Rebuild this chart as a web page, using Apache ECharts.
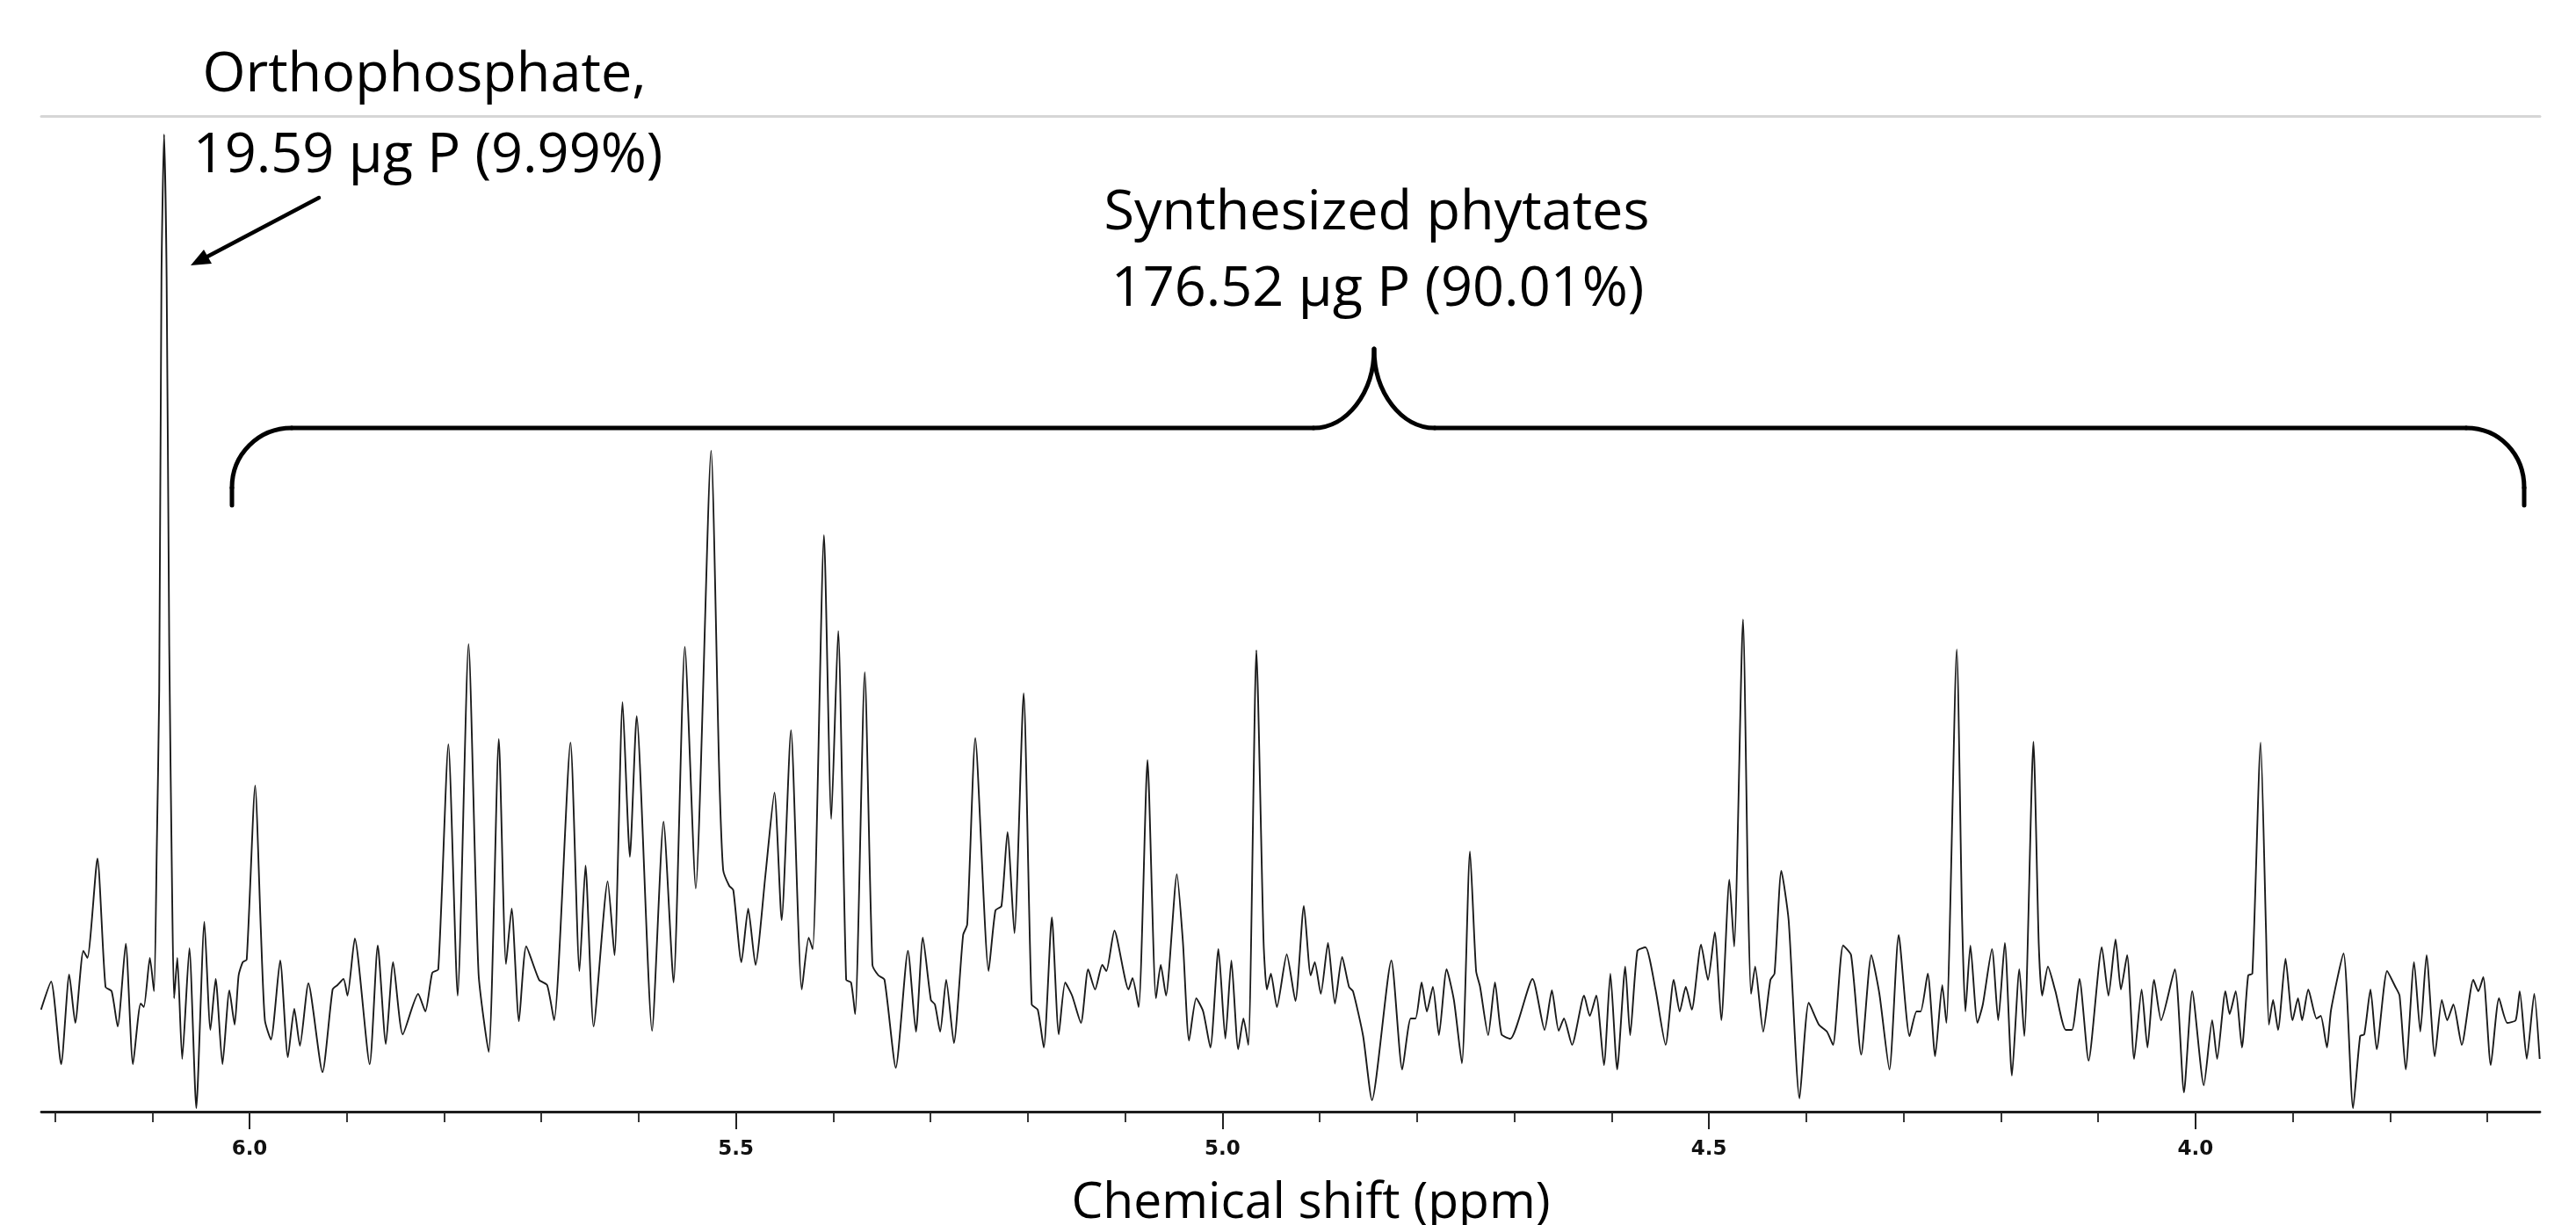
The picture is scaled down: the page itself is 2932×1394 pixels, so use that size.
<!DOCTYPE html>
<html>
<head>
<meta charset="utf-8">
<title>31P NMR spectrum - synthesized phytates</title>
<script src="https://cdn.jsdelivr.net/npm/echarts@6/dist/echarts.min.js"></script>
<style>
  html, body { margin: 0; padding: 0; background: #fff; }
  #spectrum { width: 2932px; height: 1394px; }
</style>
</head>
<body>
<div id="spectrum"></div>
<script>
// spectrum trace: [chemical shift (ppm), intensity (a.u.)]
const spanA = [
  [6.2143, 11.6], [6.2039, 14.8], [6.1936, 5.4], [6.1853, 15.6], [6.1791, 10.1], [6.1708, 18.3],
  [6.1666, 17.5], [6.1563, 28.8], [6.1480, 14.2], [6.1417, 13.7], [6.1355, 9.7], [6.1272, 19.1],
  [6.1198, 5.4], [6.1119, 12.3], [6.1086, 11.9], [6.1024, 17.5], [6.0982, 13.7], [6.0953, 30.0],
  [6.0928, 47.9], [6.0905, 95.0], [6.0878, 111.2], [6.0852, 95.0], [6.0825, 53.0], [6.0796, 25.4],
  [6.0775, 12.9], [6.0742, 17.5], [6.0692, 6.0], [6.0618, 18.6], [6.0547, 0.4], [6.0464, 21.6],
  [6.0402, 9.3], [6.0348, 15.1], [6.0278, 5.4], [6.0207, 13.8], [6.0153, 9.9], [6.0112, 15.5],
  [6.0070, 17.0], [6.0029, 17.3], [5.9942, 37.1], [5.9884, 20.8], [5.9842, 10.4], [5.9780, 8.2],
  [5.9685, 17.2], [5.9606, 6.2], [5.9540, 11.7], [5.9482, 7.5], [5.9395, 14.6], [5.9250, 4.5],
  [5.9146, 13.9], [5.9096, 14.4], [5.9034, 15.1], [5.8993, 13.2], [5.8918, 19.7], [5.8765, 5.4],
  [5.8682, 18.9], [5.8599, 7.7], [5.8524, 17.0], [5.8425, 8.8], [5.8267, 13.4], [5.8193, 11.4],
  [5.8122, 15.8], [5.8060, 16.2], [5.7956, 41.8], [5.7861, 13.2], [5.7749, 53.2], [5.7646, 15.7],
  [5.7542, 6.8], [5.7438, 42.4], [5.7364, 16.8], [5.7306, 23.1], [5.7231, 10.3], [5.7156, 18.8],
  [5.7024, 15.0], [5.6941, 14.4], [5.6870, 10.4], [5.6701, 42.0], [5.6609, 16.0], [5.6547, 28.0],
  [5.6464, 9.7], [5.6319, 26.2], [5.6249, 17.8], [5.6166, 46.6], [5.6091, 29.0], [5.6021, 45.0],
  [5.5863, 9.2]
];
const spanB = [
  [5.5745, 33.0], [5.5642, 14.7], [5.5526, 52.9], [5.5414, 25.4], [5.5256, 75.2], [5.5173, 38.7],
  [5.5132, 27.5], [5.5070, 25.7], [5.5028, 25.2], [5.4945, 17.0], [5.4875, 23.1], [5.4800, 16.7],
  [5.4697, 27.0], [5.4605, 36.3], [5.4531, 21.8], [5.4435, 43.4], [5.4324, 13.9], [5.4253, 19.8],
  [5.4212, 18.5], [5.4096, 65.6], [5.4021, 33.3], [5.3950, 54.7], [5.3868, 15.0], [5.3818, 14.7],
  [5.3776, 11.1], [5.3677, 50.0], [5.3598, 16.7], [5.3536, 15.5], [5.3474, 15.0], [5.3358, 5.0],
  [5.3233, 18.3], [5.3151, 9.1], [5.3080, 19.8], [5.2997, 12.7], [5.2956, 12.2], [5.2902, 9.1],
  [5.2840, 15.0], [5.2761, 7.8], [5.2666, 20.1], [5.2624, 21.3], [5.2541, 42.5], [5.2404, 16.0],
  [5.2334, 22.9], [5.2272, 23.4], [5.2210, 31.8], [5.2139, 20.3], [5.2044, 47.6], [5.1961, 12.2],
  [5.1899, 11.6], [5.1837, 7.3], [5.1754, 22.1], [5.1683, 8.8], [5.1617, 14.7], [5.1546, 13.2],
  [5.1455, 10.1], [5.1381, 16.2], [5.1310, 13.9], [5.1236, 16.7], [5.1194, 16.0], [5.1111, 20.6],
  [5.0966, 13.9], [5.0925, 15.2], [5.0862, 11.9], [5.0771, 40.0], [5.0684, 12.9], [5.0635, 16.7],
  [5.0581, 13.2], [5.0469, 27.0], [5.0407, 19.3], [5.0344, 8.1], [5.0270, 12.9], [5.0199, 11.4],
  [5.0125, 7.3], [5.0042, 18.5], [4.9971, 8.3], [4.9909, 17.2], [4.9839, 7.1], [4.9785, 10.6],
  [4.9735, 7.6], [4.9652, 52.5], [4.9578, 19.3], [4.9544, 13.9], [4.9503, 15.7], [4.9441, 11.9]
];
const spanC = [
  [4.9340, 17.9], [4.9251, 12.6], [4.9164, 23.4], [4.9094, 15.5], [4.9052, 17.0], [4.8990, 13.4],
  [4.8916, 19.2], [4.8845, 12.3], [4.8771, 17.6], [4.8700, 14.2], [4.8659, 13.7], [4.8555, 8.6],
  [4.8464, 1.3], [4.8265, 17.2], [4.8153, 4.8], [4.8066, 10.6], [4.8016, 10.6], [4.7954, 14.7],
  [4.7900, 11.4], [4.7838, 14.2], [4.7776, 8.7], [4.7697, 16.2], [4.7622, 12.7], [4.7540, 5.5],
  [4.7457, 29.6], [4.7394, 16.0], [4.7353, 14.2], [4.7270, 8.7], [4.7200, 14.7], [4.7133, 8.8],
  [4.7042, 8.3], [4.6814, 15.1], [4.6690, 9.3], [4.6615, 13.8], [4.6545, 9.2], [4.6491, 10.6],
  [4.6408, 7.6], [4.6284, 13.2], [4.6226, 10.9], [4.6159, 13.2], [4.6080, 5.3], [4.6014, 15.7],
  [4.5944, 4.8], [4.5861, 16.5], [4.5811, 8.7], [4.5736, 18.3], [4.5653, 18.7], [4.5550, 13.9],
  [4.5446, 7.6], [4.5363, 15.0], [4.5301, 11.4], [4.5239, 14.2], [4.5177, 11.6], [4.5082, 19.0],
  [4.5011, 15.0], [4.4941, 20.4], [4.4874, 10.4], [4.4791, 26.4], [4.4742, 18.8], [4.4651, 56.0],
  [4.4597, 23.4], [4.4568, 13.4], [4.4526, 16.5], [4.4443, 9.1], [4.4369, 15.0], [4.4327, 15.7],
  [4.4257, 27.4], [4.4182, 21.8], [4.4070, 1.5], [4.3975, 12.4], [4.3871, 9.9], [4.3788, 9.1],
  [4.3726, 7.6], [4.3622, 18.9], [4.3540, 17.8], [4.3436, 6.5], [4.3332, 17.8], [4.3249, 13.4],
  [4.3146, 4.8], [4.3051, 20.1], [4.2939, 8.6]
];
const spanD = [
  [4.2867, 11.4], [4.2825, 11.4], [4.2752, 15.7], [4.2676, 6.3], [4.2603, 14.4], [4.2561, 10.1],
  [4.2454, 52.6], [4.2399, 21.8], [4.2365, 11.4], [4.2314, 18.9], [4.2241, 10.1], [4.2186, 12.2],
  [4.2092, 18.5], [4.2028, 10.4], [4.1960, 19.2], [4.1887, 4.1], [4.1811, 16.2], [4.1760, 8.6],
  [4.1666, 42.1], [4.1611, 19.0], [4.1576, 13.2], [4.1517, 16.5], [4.1440, 13.7], [4.1334, 9.3],
  [4.1270, 9.3], [4.1193, 15.1], [4.1099, 5.8], [4.0963, 18.7], [4.0895, 13.2], [4.0822, 19.6],
  [4.0767, 13.9], [4.0703, 17.8], [4.0631, 6.0], [4.0554, 13.9], [4.0494, 7.3], [4.0426, 15.0],
  [4.0354, 10.4], [4.0213, 16.2], [4.0119, 2.2], [4.0034, 13.7], [3.9915, 3.0], [3.9829, 10.4],
  [3.9778, 6.0], [3.9693, 13.7], [3.9650, 11.1], [3.9587, 13.7], [3.9523, 7.3], [3.9459, 15.5],
  [3.9416, 15.7], [3.9331, 42.0], [3.9276, 20.8], [3.9246, 9.9], [3.9203, 12.7], [3.9152, 9.3],
  [3.9075, 17.4], [3.9003, 10.4], [3.8947, 12.9], [3.8905, 10.4], [3.8841, 13.9], [3.8756, 10.6],
  [3.8713, 10.9], [3.8649, 7.3], [3.8607, 11.6], [3.8479, 18.0], [3.8381, 0.4], [3.8308, 8.6],
  [3.8266, 8.8], [3.8202, 13.9], [3.8138, 7.1], [3.8031, 16.0], [3.7946, 14.2], [3.7903, 13.2],
  [3.7840, 4.8], [3.7754, 17.0], [3.7690, 9.1], [3.7626, 17.8], [3.7541, 6.3], [3.7469, 12.7],
  [3.7413, 10.4], [3.7350, 12.2], [3.7264, 7.6], [3.7145, 15.0], [3.7094, 13.7], [3.7043, 15.3],
  [3.6966, 5.3], [3.6881, 12.9], [3.6796, 10.1], [3.6710, 10.4], [3.6668, 13.7], [3.6596, 6.0],
  [3.6519, 13.4], [3.6463, 6.0]
];

const minorTicks = [6.2, 6.1, 6.0, 5.9, 5.8, 5.7, 5.6, 5.5, 5.4, 5.3, 5.2, 5.1, 5.0,
                    4.9, 4.8, 4.7, 4.6, 4.5, 4.4, 4.3, 4.2, 4.1, 4.0, 3.9, 3.8, 3.7];
const majorTicks = [6.0, 5.5, 5.0, 4.5, 4.0];

const orthoText = ['Orthophosphate,', '19.59 µg P (9.99%)'];
const phytateText = ['Synthesized phytates', '176.52 µg P (90.01%)'];
const axisTitle = 'Chemical shift (ppm)';

const trace = spanA.concat(spanB, spanC, spanD);

const textFont = '"Open Sans", "Noto Sans", sans-serif';
const black = '#000';

function label(text, x, y) {
  return {
    type: 'text', x: x, y: y,
    style: { text: text, font: '63px ' + textFont, fill: black, textAlign: 'center', textVerticalAlign: 'middle' }
  };
}
function stroke(w) {
  return { stroke: black, lineWidth: w, fill: null, lineCap: 'round' };
}

const chart = echarts.init(document.getElementById('spectrum'));

const xBase = { type: 'value', min: 3.646, max: 6.214, inverse: true, splitLine: { show: false } };

chart.setOption({
  animation: false,
  backgroundColor: '#fff',
  grid: { left: 47, right: 41, top: 132, bottom: 129, outerBoundsMode: 'none' },
  xAxis: [
    Object.assign({}, xBase, {
      position: 'bottom',
      axisLine: { lineStyle: { color: '#1e1e1e', width: 2.8 } },
      axisTick: { customValues: minorTicks, length: 12, lineStyle: { color: '#222', width: 1.8 } },
      axisLabel: { show: false }
    }),
    Object.assign({}, xBase, {
      position: 'bottom',
      axisLine: { show: false },
      axisTick: { customValues: majorTicks, length: 20, lineStyle: { color: '#222', width: 2 } },
      axisLabel: {
        customValues: majorTicks,
        formatter: function (v) { return v.toFixed(1); },
        margin: 32,
        fontFamily: 'DejaVu Sans', fontWeight: 'bold', fontSize: 23, color: '#111'
      },
      name: axisTitle,
      nameLocation: 'middle',
      nameGap: 76,
      nameTextStyle: { fontFamily: textFont, fontSize: 57, color: black, padding: [0, 0, 0, 46] }
    }),
    Object.assign({}, xBase, {
      position: 'top',
      axisLine: { lineStyle: { color: '#d6d6d6', width: 3 } },
      axisTick: { show: false },
      axisLabel: { show: false }
    })
  ],
  yAxis: { type: 'value', min: 0, max: 113.3, show: false },
  series: [{
    type: 'line',
    xAxisIndex: 0,
    data: trace,
    symbol: 'none',
    smooth: 0.2,
    lineStyle: { color: '#1a1a1a', width: 1.9 }
  }],
  graphic: [
    label(orthoText[0], 483, 86),
    label(orthoText[1], 487, 178),
    label(phytateText[0], 1567, 243),
    label(phytateText[1], 1568, 330),
    // arrow towards the orthophosphate peak
    { type: 'line', shape: { x1: 363, y1: 225, x2: 236, y2: 292 }, style: stroke(4.5) },
    { type: 'polygon', shape: { points: [[217, 302], [241, 300], [232, 284]] }, style: { fill: black } },
    // brace over the phytate region
    { type: 'line', shape: { x1: 264, y1: 575, x2: 264, y2: 555 }, style: stroke(5) },
    { type: 'bezierCurve', shape: { x1: 264, y1: 555, cpx1: 264, cpy1: 517, cpx2: 294, cpy2: 487, x2: 332, y2: 487 }, style: stroke(5) },
    { type: 'line', shape: { x1: 332, y1: 487, x2: 1495, y2: 487 }, style: stroke(5) },
    { type: 'bezierCurve', shape: { x1: 1495, y1: 487, cpx1: 1533, cpy1: 487, cpx2: 1564, cpy2: 447, x2: 1564, y2: 397 }, style: stroke(5) },
    { type: 'bezierCurve', shape: { x1: 1564, y1: 397, cpx1: 1564, cpy1: 447, cpx2: 1595, cpy2: 487, x2: 1633, y2: 487 }, style: stroke(5) },
    { type: 'line', shape: { x1: 1633, y1: 487, x2: 2807, y2: 487 }, style: stroke(5) },
    { type: 'bezierCurve', shape: { x1: 2807, y1: 487, cpx1: 2845, cpy1: 487, cpx2: 2873, cpy2: 517, x2: 2873, y2: 555 }, style: stroke(5) },
    { type: 'line', shape: { x1: 2873, y1: 555, x2: 2873, y2: 575 }, style: stroke(5) }
  ]
});
</script>
</body>
</html>
